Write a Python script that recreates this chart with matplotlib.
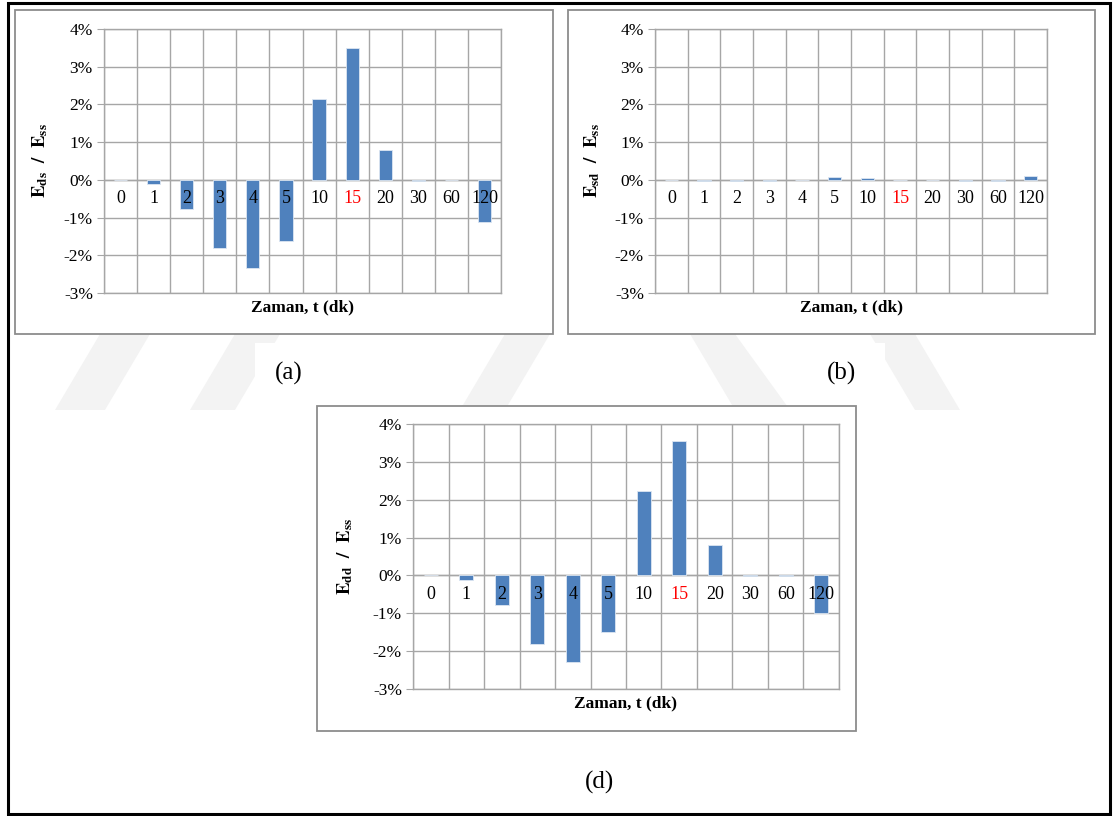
import numpy as np
import matplotlib
matplotlib.use('Agg')
import matplotlib.pyplot as plt
from matplotlib.patches import Rectangle, Polygon

plt.rcParams['font.family'] = ['Liberation Serif', 'DejaVu Serif']
plt.rcParams['mathtext.fontset'] = 'stix'

# time steps (min) and relative energy ratios (%)
categories = ['0', '1', '2', '3', '4', '5', '10', '15', '20', '30', '60', '120']
highlight = '15'
e_ds = [0.0, -0.10, -0.76, -1.80, -2.33, -1.61, 2.15, 3.50, 0.80, -0.02, -0.01, -1.11]
e_sd = [0.0, -0.02, -0.02, -0.02, -0.01, 0.07, 0.05, -0.01, -0.01, -0.02, -0.02, 0.09]
e_dd = [0.0, -0.12, -0.77, -1.80, -2.29, -1.50, 2.22, 3.55, 0.81, -0.02, -0.02, -1.00]
y_ticks = [-3, -2, -1, 0, 1, 2, 3, 4]

BAR_COLOR = '#4f81bd'
GRID_COLOR = '#a6a6a6'
BOX_COLOR = '#8c8c8c'
STRIPE_COLOR = '#f3f3f3'

W, H = 1117, 816
fig = plt.figure(figsize=(W / 100, H / 100), dpi=100)


def px_rect(x0, y0, x1, y1):
    # pixel box (top-left origin) -> figure fraction [left, bottom, width, height]
    return [x0 / W, 1 - y1 / H, (x1 - x0) / W, (y1 - y0) / H]


def frame(x0, y0, x1, y1, color, lw, z=-1):
    l, b, w, h = px_rect(x0, y0, x1, y1)
    fig.patches.append(Rectangle((l, b), w, h, transform=fig.transFigure,
                                 fill=True, facecolor='white', edgecolor=color,
                                 linewidth=lw, zorder=z))


def stripe(top, bottom, y0=334, y1=410):
    # slanted background band between two rows of pixels
    pts = [(top[0], y0), (top[1], y0), (bottom[1], y1), (bottom[0], y1)]
    fig.patches.append(Polygon([(x / W, 1 - y / H) for x, y in pts],
                               closed=True, transform=fig.transFigure,
                               facecolor=STRIPE_COLOR, edgecolor='none',
                               zorder=-1.5))


def draw_panel(ax, values, sub):
    x = np.arange(len(categories))
    ax.bar(x, values, width=0.4, color=BAR_COLOR, edgecolor='#dce6f2',
           linewidth=0.6, zorder=3)
    ax.set_xlim(-0.5, len(categories) - 0.5)
    ax.set_ylim(-3, 4)
    ax.set_yticks(y_ticks)
    ax.set_yticklabels([f'{v}%' for v in y_ticks], fontsize=12.5)
    ax.set_xticks(np.arange(len(categories) + 1) - 0.5)
    ax.set_xticklabels([])
    ax.tick_params(axis='x', length=0)
    ax.tick_params(axis='y', length=5, color=GRID_COLOR, pad=3)
    ax.grid(True, color=GRID_COLOR, linewidth=1.0, zorder=0)
    ax.set_axisbelow(True)
    for s in ax.spines.values():
        s.set_color(GRID_COLOR)
        s.set_linewidth(1.0)
    ax.axhline(0, color=GRID_COLOR, linewidth=1.0, zorder=2)
    for i, lbl in enumerate(categories):
        ax.annotate(lbl, (i, 0), xytext=(0, -13.5), textcoords='offset points',
                    ha='center', va='center', fontsize=13, zorder=5,
                    color='red' if lbl == highlight else 'black')
    ax.set_xlabel('Zaman, t (dk)', fontsize=12.5, fontweight='bold')
    ax.xaxis.set_label_coords(0.5, -0.025)
    ax.set_ylabel(rf'$\mathbf{{E_{{{sub}}}}}$  $\mathbf{{/}}$  $\mathbf{{E_{{ss}}}}$',
                  fontsize=13.5)
    ax.yaxis.set_label_coords(-0.135, 0.5)


# outer border, faint background bands, chart frames
frame(8, 3, 1110, 814, 'black', 2.2, z=-2)
stripe((100, 150), (55, 105))
stripe((235, 280), (190, 235))
stripe((505, 550), (460, 505))
stripe((690, 735), (735, 790))
stripe((870, 915), (915, 960))
frame(255, 343, 333, 400, 'none', 0)
frame(812, 343, 885, 400, 'none', 0)
frame(15, 10, 553, 334, BOX_COLOR, 1.3)
frame(568, 10, 1095, 334, BOX_COLOR, 1.3)
frame(317, 406, 856, 731, BOX_COLOR, 1.3)

ax_a = fig.add_axes(px_rect(104, 29, 501, 293))
ax_b = fig.add_axes(px_rect(655, 29, 1047, 293))
ax_d = fig.add_axes(px_rect(413, 424, 839, 689))

draw_panel(ax_a, e_ds, 'ds')
draw_panel(ax_b, e_sd, 'sd')
draw_panel(ax_d, e_dd, 'dd')

fig.text(289 / W, 1 - 373 / H, '(a)', fontsize=18, ha='center', va='center')
fig.text(841 / W, 1 - 373 / H, '(b)', fontsize=18, ha='center', va='center')
fig.text(599 / W, 1 - 782 / H, '(d)', fontsize=18, ha='center', va='center')

fig.savefig('out.png', dpi=100)
